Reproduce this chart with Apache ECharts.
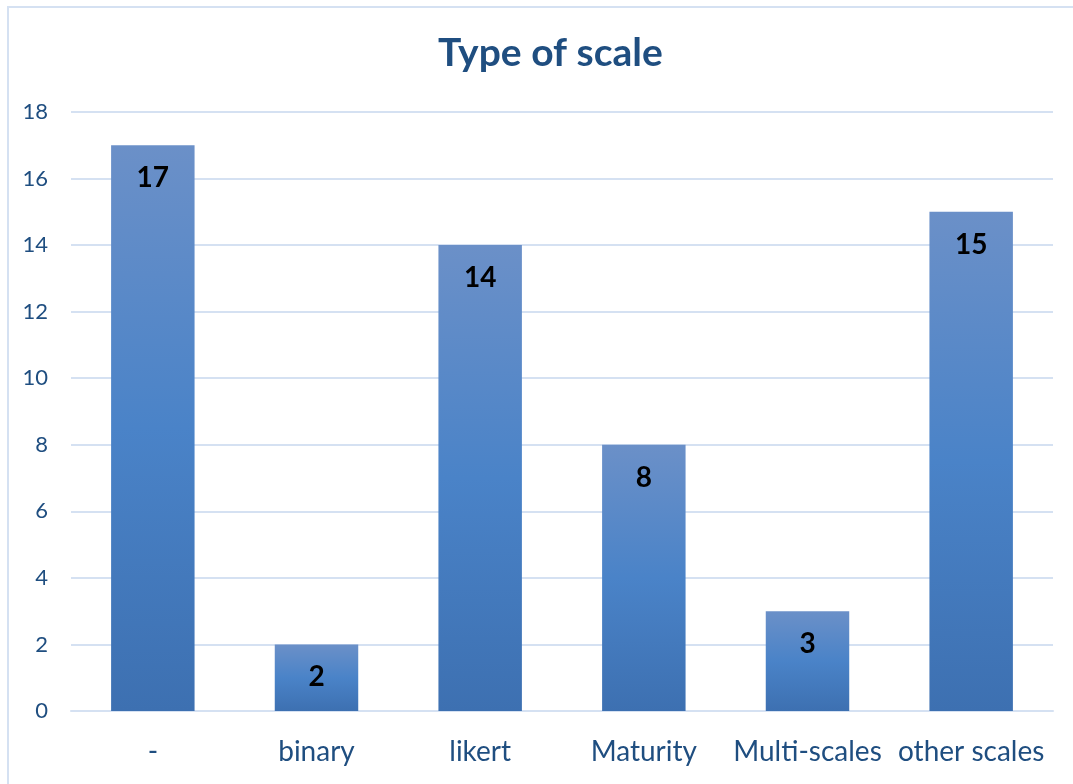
<!DOCTYPE html>
<html>
<head>
<meta charset="utf-8">
<script src="https://cdn.jsdelivr.net/npm/echarts@6/dist/echarts.min.js"></script>
<style>
  html, body { margin: 0; padding: 0; background: #fff; }
  #chart { width: 1073px; height: 784px; }
</style>
</head>
<body>
<div id="chart"></div>
<script>
const categories = ['-', 'binary', 'likert', 'Maturity', 'Multi-scales', 'other scales'];
const counts = [17, 2, 14, 8, 3, 15];
const yTicks = { min: 0, max: 18, interval: 2 };

const FONT = 'Lato, "Open Sans", sans-serif';
const chart = echarts.init(document.getElementById('chart'));

chart.setOption({
  backgroundColor: '#ffffff',
  animation: false,
  graphic: [{
    type: 'rect',
    shape: { x: 8, y: 7, width: 1100, height: 800 },
    style: { fill: 'none', stroke: '#d5e1f2', lineWidth: 2 },
    silent: true
  }],
  title: {
    text: 'Type of scale',
    left: 433,
    top: 29,
    textStyle: { fontFamily: FONT, fontWeight: 'bold', fontSize: 39, color: '#1f4e80' }
  },
  grid: { left: 71, right: 20, top: 112, bottom: 73 },
  xAxis: {
    type: 'category',
    data: categories,
    axisLine: { lineStyle: { color: '#d5e1f2', width: 2 } },
    axisTick: { show: false },
    axisLabel: { fontFamily: FONT, fontSize: 28, color: '#1f4e80', margin: 27, interval: 0 }
  },
  yAxis: {
    type: 'value',
    min: yTicks.min,
    max: yTicks.max,
    interval: yTicks.interval,
    axisLine: { show: false },
    axisTick: { show: false },
    splitLine: { lineStyle: { color: '#d5e1f2', width: 2 } },
    axisLabel: { fontFamily: FONT, fontSize: 22, color: '#1f4e80', margin: 23 }
  },
  series: [{
    type: 'bar',
    data: counts,
    barWidth: '51%',
    itemStyle: {
      color: new echarts.graphic.LinearGradient(0, 0, 0, 1, [
        { offset: 0, color: '#6b90c8' },
        { offset: 0.5, color: '#4a83c8' },
        { offset: 1, color: '#3d70b1' }
      ])
    },
    label: {
      show: true,
      position: 'insideTop',
      distance: 19,
      fontFamily: FONT,
      fontWeight: 'bold',
      fontSize: 28,
      color: '#000000'
    }
  }]
});
</script>
</body>
</html>
